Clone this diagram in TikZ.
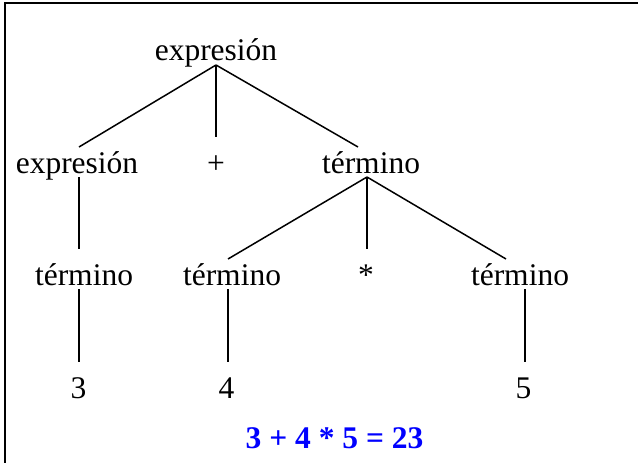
\documentclass[tikz,border=0pt]{standalone}
\usepackage{fontspec}
\setmainfont{Liberation Serif}
\definecolor{resblue}{RGB}{0,0,255}
\begin{document}
\begin{tikzpicture}[x=1pt,y=1pt,
  lbl/.style={anchor=base,inner sep=0pt,outer sep=0pt,text height=22pt,text depth=4pt,font=\fontsize{31.5}{36}\selectfont},
  res/.style={anchor=base,inner sep=0pt,text=resblue,font=\fontsize{31.5}{36}\selectfont\bfseries},
  edge/.style={line width=1.5pt,black},
  frame/.style={line width=2pt,black}]
\useasboundingbox (0,0) rectangle (638,-463);
\draw[frame] (5,-463) -- (5,-2.5) -- (638,-2.5);
% nodes
\node[lbl] (root) at (216,-60) {expresión};
\node[lbl] (e1) at (77,-173) {expresión};
\node[lbl] (plus) at (216,-173) {+};
\node[lbl] (t1) at (371,-173) {término};
\node[lbl] (t2) at (84,-285) {término};
\node[lbl] (t3) at (232,-285) {término};
\node[lbl] (star) at (366,-285) {*};
\node[lbl] (t4) at (520,-285) {término};
\node[lbl] (n3) at (78.5,-398) {3};
\node[lbl] (n4) at (226.5,-398) {4};
\node[lbl] (n5) at (523.5,-398) {5};
\node[res] (result) at (334.5,-448) {3 + 4 * 5 = 23};
% connectors
\draw[edge] ([yshift=-1pt]root.south) -- ([xshift=2pt,yshift=4pt]e1.north);
\draw[edge] ([yshift=-1pt]root.south) -- ([yshift=14pt]plus.north);
\draw[edge] ([yshift=-1pt]root.south) -- ([xshift=-13pt,yshift=4pt]t1.north);
\draw[edge] ([xshift=2pt]e1.south) -- ([xshift=-5pt,yshift=14pt]t2.north);
\draw[edge] ([xshift=-4pt]t1.south) -- ([xshift=-4pt,yshift=4pt]t3.north);
\draw[edge] ([xshift=-4pt]t1.south) -- ([xshift=1pt,yshift=14pt]star.north);
\draw[edge] ([xshift=-4pt]t1.south) -- ([xshift=-14pt,yshift=4pt]t4.north);
\draw[edge] ([xshift=-5pt]t2.south) -- ([xshift=0.5pt,yshift=14pt]n3.north);
\draw[edge] ([xshift=-4pt]t3.south) -- ([xshift=1.5pt,yshift=14pt]n4.north);
\draw[edge] ([xshift=5pt]t4.south) -- ([xshift=1.5pt,yshift=14pt]n5.north);
\end{tikzpicture}
\end{document}
